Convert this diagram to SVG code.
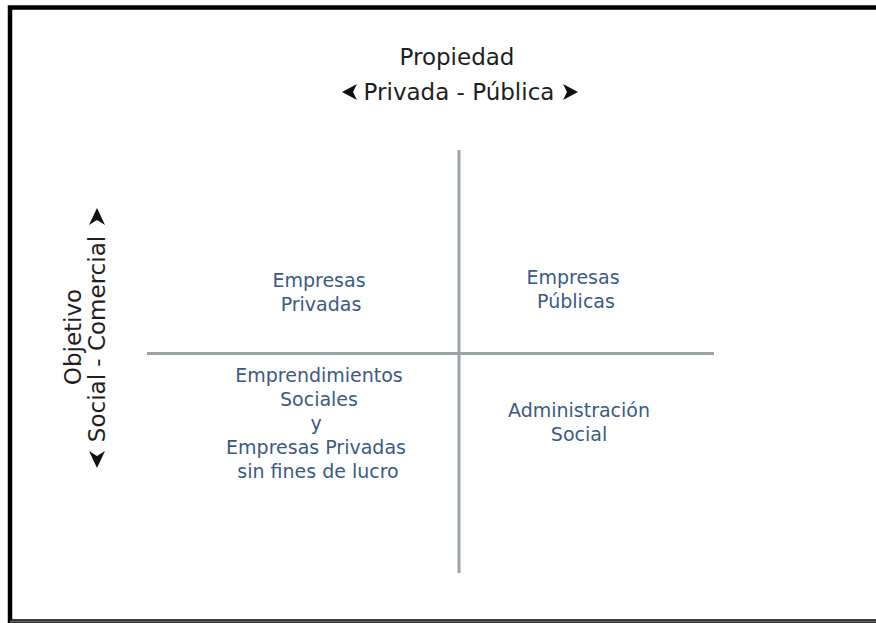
<svg xmlns="http://www.w3.org/2000/svg" width="876" height="623" viewBox="0 0 876 623">
<style>
.hd{font-family:"DejaVu Sans",sans-serif;font-size:23px;fill:#1e1e1e;text-anchor:middle}
.q{font-family:"DejaVu Sans",sans-serif;font-size:19px;fill:#3a5a85;text-anchor:middle}
.ax{stroke:#9aa3a7;stroke-width:3;fill:none}
.ar{fill:#111}
</style>
<rect x="0" y="0" width="876" height="623" fill="#fff"/>
<rect x="10" y="7.5" width="880" height="614" fill="none" stroke="#000" stroke-width="4.5"/>
<line x1="10" y1="621.5" x2="876" y2="621.5" stroke="#666" stroke-width="2"/>
<g id="connectors">
<line class="ax" x1="147" y1="353.5" x2="714" y2="353.5"/>
<line class="ax" x1="459" y1="150" x2="459" y2="573"/>
</g>
<g id="title-top">
<text class="hd" x="457" y="65">Propiedad</text>
<text class="hd" x="459" y="100">Privada - Pública</text>
<polygon class="ar" points="342,92 357,84 353,92 357,100"/>
<polygon class="ar" points="578,92 563,84 567,92 563,100"/>
</g>
<g id="title-left">
<text class="hd" transform="translate(81,337) rotate(-90)">Objetivo</text>
<text class="hd" transform="translate(105,339) rotate(-90)">Social - Comercial</text>
<polygon class="ar" points="97,208 89,225 97,220 105,225"/>
<polygon class="ar" points="97,468 89,451 97,456 105,451"/>
</g>
<g id="q-tl">
<text class="q" x="319" y="287">Empresas</text>
<text class="q" x="321" y="311">Privadas</text>
</g>
<g id="q-tr">
<text class="q" x="573" y="284">Empresas</text>
<text class="q" x="576" y="308">Públicas</text>
</g>
<g id="q-bl">
<text class="q" x="319" y="382">Emprendimientos</text>
<text class="q" x="319" y="406">Sociales</text>
<text class="q" x="316" y="430">y</text>
<text class="q" x="316" y="454">Empresas Privadas</text>
<text class="q" x="318" y="478">sin fines de lucro</text>
</g>
<g id="q-br">
<text class="q" x="579" y="417">Administración</text>
<text class="q" x="579" y="441">Social</text>
</g>
</svg>
